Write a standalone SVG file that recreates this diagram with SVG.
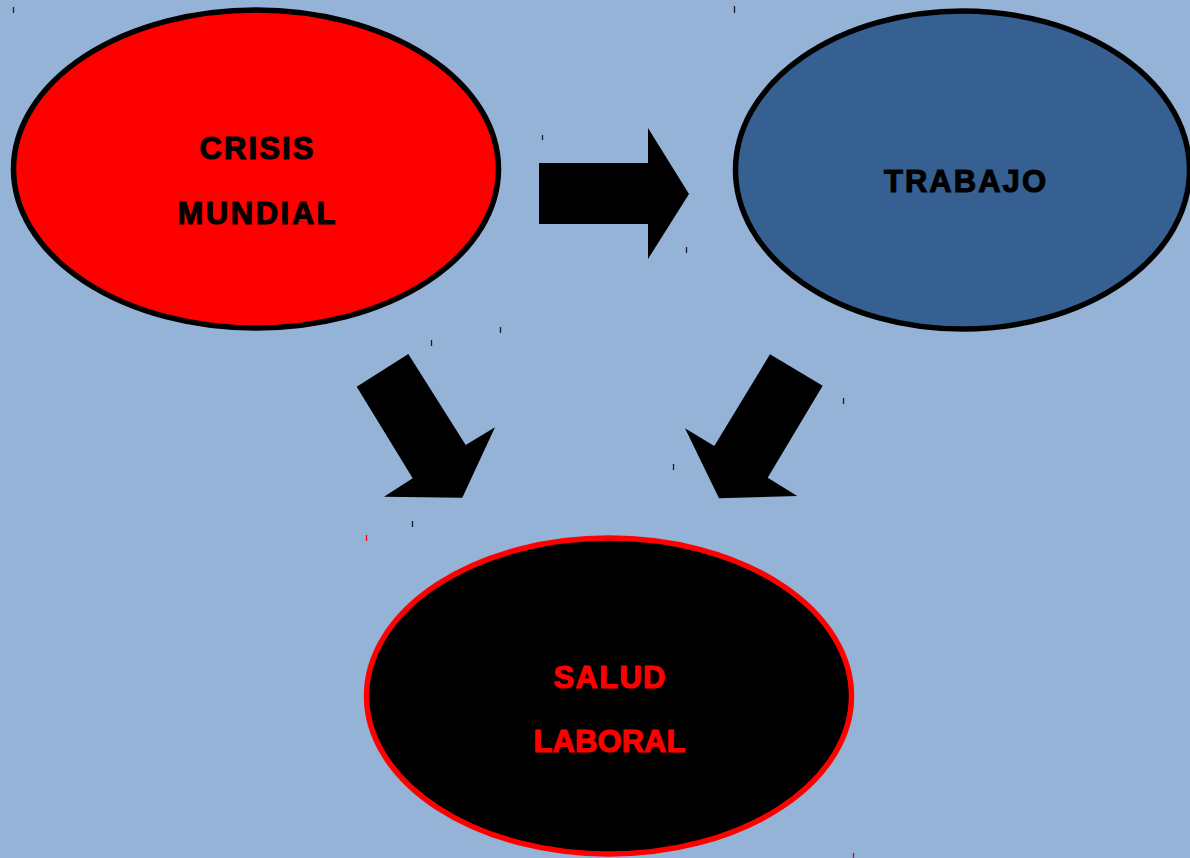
<svg xmlns="http://www.w3.org/2000/svg" width="1190" height="858" viewBox="0 0 1190 858">
  <style>
    .lbl { font-family: "Liberation Sans", Arial, sans-serif; font-weight: bold; font-size: 31px; text-anchor: middle; }
    .dark { fill: #000; stroke: #000; stroke-width: 1.1; }
    .red { fill: #ff0000; stroke: #ff0000; stroke-width: 1.1; }
    .arrow { fill: #000; }
    .tick { stroke: #1a1a2a; stroke-width: 1.3; }
  </style>
  <rect width="1190" height="858" fill="#95b3d7"/>

  <g id="marks">
    <line class="tick" x1="13.5" y1="7" x2="13.5" y2="13"/>
    <line class="tick" x1="734.5" y1="6" x2="734.5" y2="13"/>
    <line class="tick" x1="542.5" y1="135" x2="542.5" y2="140"/>
    <line class="tick" x1="686.5" y1="247" x2="686.5" y2="253"/>
    <line class="tick" x1="500.5" y1="327" x2="500.5" y2="333"/>
    <line class="tick" x1="431.5" y1="340" x2="431.5" y2="346"/>
    <line class="tick" x1="843.5" y1="398" x2="843.5" y2="404"/>
    <line class="tick" x1="673.5" y1="464" x2="673.5" y2="470"/>
    <line class="tick" x1="412.5" y1="521" x2="412.5" y2="527"/>
    <line x1="366.5" y1="535" x2="366.5" y2="541" stroke="#ff0000" stroke-width="1.3"/>
    <line x1="853.5" y1="853" x2="853.5" y2="858" stroke="#cc1111" stroke-width="1.3"/>
  </g>

  <g id="connectors">
    <polygon class="arrow" points="539,163 648,163 648,128 689,194 648,259 648,224 539,224"/>
    <polygon class="arrow" points="356.7,386.7 408.3,354 465.7,445 495,427.3 462.3,497.7 384,496.7 412.7,478.3"/>
    <polygon class="arrow" points="770,354.3 822.7,385.7 767.7,477.7 797.3,496 719,498.3 685,428.3 714.3,446"/>
  </g>

  <g id="crisis">
    <ellipse cx="256" cy="169" rx="242.5" ry="159" fill="#ff0000" stroke="#000" stroke-width="5.5"/>
    <text class="lbl dark" x="256.5" y="159" textLength="114" lengthAdjust="spacing">CRISIS</text>
    <text class="lbl dark" x="256.5" y="223.5" textLength="158" lengthAdjust="spacing">MUNDIAL</text>
  </g>

  <g id="trabajo">
    <ellipse cx="962.5" cy="170" rx="227" ry="159" fill="#366092" stroke="#000" stroke-width="5.5"/>
    <text class="lbl dark" x="965" y="191.5" textLength="162" lengthAdjust="spacing">TRABAJO</text>
  </g>

  <g id="salud">
    <ellipse cx="609" cy="696" rx="242.5" ry="158" fill="#000" stroke="#ff0000" stroke-width="5.5"/>
    <text class="lbl red" x="609.5" y="688" textLength="112" lengthAdjust="spacing">SALUD</text>
    <text class="lbl red" x="609.5" y="751.5" textLength="152" lengthAdjust="spacing">LABORAL</text>
  </g>
</svg>
